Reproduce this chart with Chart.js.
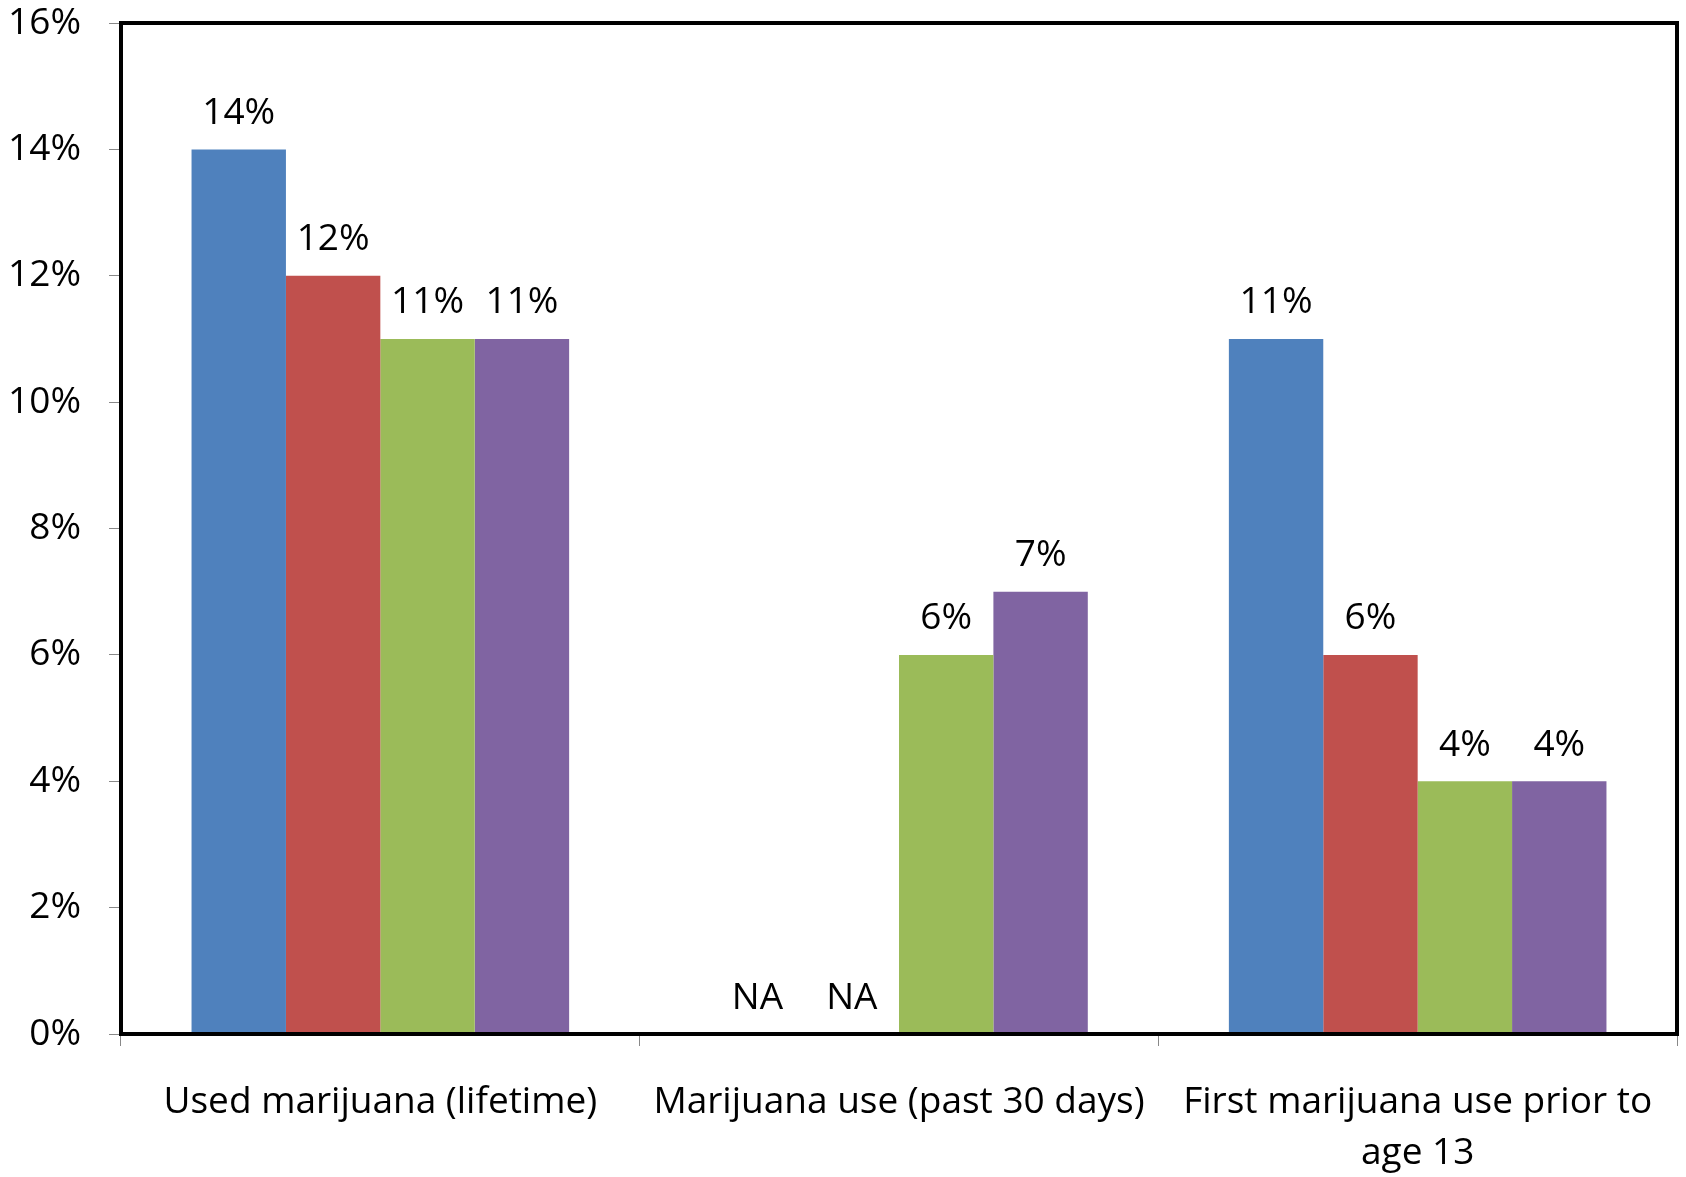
<!DOCTYPE html>
<html>
<head>
<meta charset="utf-8">
<script src="https://cdn.jsdelivr.net/npm/chart.js@4/dist/chart.umd.min.js"></script>
<style>
  html, body { margin: 0; padding: 0; background: #fff; }
  #wrap { width: 1686px; height: 1177px; }
</style>
</head>
<body>
<div id="wrap"><canvas id="myChart" width="1686" height="1177"></canvas></div>
<script>
// categories and values (percent), null = not available
const categories = [
    'Used marijuana (lifetime)',
    'Marijuana use (past 30 days)',
    ['First marijuana use prior to', 'age 13']
];
const series1 = [14, null, 11];
const series2 = [12, null, 6];
const series3 = [11, 6, 4];
const series4 = [11, 7, 4];
const yTicks = [0, 2, 4, 6, 8, 10, 12, 14, 16];

const colors = ['#4F81BD', '#C0504D', '#9BBB59', '#8064A2'];
const FONT = '"Open Sans", sans-serif';
const FSIZE = 37;

// draws the value labels and NA for missing values
const valueLabels = {
    id: 'valueLabels',
    afterDatasetsDraw(chart) {
        const ctx = chart.ctx;
        const y0 = chart.scales.y.getPixelForValue(0);
        ctx.save();
        ctx.font = FSIZE + 'px ' + FONT;
        ctx.fillStyle = '#000';
        ctx.textAlign = 'center';
        ctx.textBaseline = 'middle';
        chart.data.datasets.forEach((ds, i) => {
            chart.getDatasetMeta(i).data.forEach((bar, j) => {
                const v = ds.data[j];
                if (v === null) {
                    ctx.fillText('NA', bar.x, y0 - 36);
                } else {
                    ctx.fillText(v + '%', bar.x, bar.y - 36);
                }
            });
        });
        ctx.restore();
    }
};

// thick black frame round the plot area
const plotFrame = {
    id: 'plotFrame',
    afterDraw(chart) {
        const a = chart.chartArea;
        const ctx = chart.ctx;
        ctx.save();
        ctx.strokeStyle = '#000';
        ctx.lineWidth = 4;
        ctx.strokeRect(a.left, a.top, a.right - a.left, a.bottom - a.top);
        ctx.restore();
    }
};

const ctx = document.getElementById('myChart').getContext('2d');
new Chart(ctx, {
    type: 'bar',
    data: {
        labels: categories,
        datasets: [series1, series2, series3, series4].map((d, i) => ({
            data: d,
            backgroundColor: colors[i],
            borderWidth: 0,
            categoryPercentage: 0.728,
            barPercentage: 1
        }))
    },
    options: {
        responsive: false,
        animation: false,
        layout: { padding: { top: 23, right: 9, left: 0, bottom: 0 } },
        plugins: {
            legend: { display: false },
            tooltip: { enabled: false }
        },
        scales: {
            x: {
                grid: {
                    offset: true,
                    drawOnChartArea: false,
                    tickLength: 12,
                    color: '#888'
                },
                border: { color: '#000', width: 4 },
                ticks: {
                    color: '#000',
                    padding: 31,
                    maxRotation: 0,
                    font: { family: FONT, size: FSIZE, lineHeight: 1.38 }
                },
                afterFit(s) {
                    s.height = 1177 - 1034;
                    s.paddingLeft = 0; s.paddingRight = 0;
                }
            },
            y: {
                min: 0,
                max: 16,
                afterBuildTicks(s) { s.ticks = yTicks.map(v => ({ value: v })); },
                grid: {
                    drawOnChartArea: false,
                    tickLength: 12,
                    color: '#888'
                },
                border: { color: '#000', width: 4 },
                ticks: {
                    color: '#000',
                    padding: 28,
                    font: { family: FONT, size: FSIZE },
                    callback: v => v + '%'
                },
                afterFit(s) {
                    s.width = 121;
                    s.paddingTop = 0; s.paddingBottom = 0;
                }
            }
        }
    },
    plugins: [valueLabels, plotFrame]
});
</script>
</body>
</html>
